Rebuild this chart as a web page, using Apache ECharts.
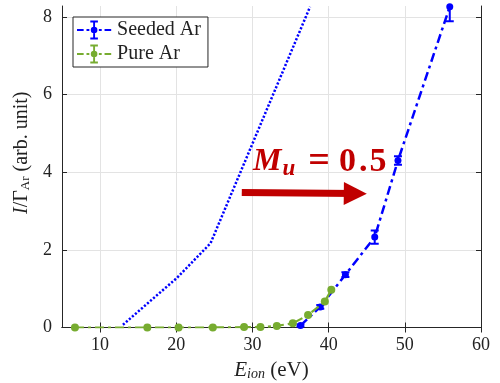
<!DOCTYPE html>
<html>
<head>
<meta charset="utf-8">
<script src="https://cdn.jsdelivr.net/npm/echarts@6/dist/echarts.min.js"></script>
<style>
  html, body { margin: 0; padding: 0; background: #fff; }
  #chart { width: 500px; height: 383px; }
</style>
</head>
<body>
<div id="chart"></div>
<script>
// measured data
const seededX = [36.3, 38.9, 42.2, 46.05, 49.1, 55.9];
const seededY = [0.05, 0.53, 1.36, 2.33, 4.3, 8.26];
const seededErr = [0.03, 0.05, 0.06, 0.17, 0.11, 0.37];
const pureX = [6.7, 16.2, 20.3, 24.8, 28.9, 31.05, 33.2, 35.3, 37.3, 39.5, 40.35];
const pureY = [0, 0, 0, 0, 0.01, 0.01, 0.04, 0.11, 0.32, 0.67, 0.97];
const modelX = [13, 20.1, 24.5, 37.56];
const modelY = [0.07, 1.28, 2.17, 8.26];
const xTicks = [10, 20, 30, 40, 50, 60];
const yTicks = [0, 2, 4, 6, 8];
const arrowX = [28.6, 43.5];
const arrowY = [3.48, 3.45];

const FONT = "Liberation Serif";
const AX = "#262626";
const GRID = "#e3e3e3";
const BLUE = "#0000ff";
const GREEN = "#77ac30";
const RED = "#c00000";

const zip = (xs, ys) => xs.map((x, i) => [x, ys[i]]);
const errData = seededX.map((x, i) => [x, seededY[i] - seededErr[i], seededY[i] + seededErr[i]]);

// legend glyph: dash-dot line with an error bar and a filled dot
const iconPath =
  "path://M0 9h7v2h-7Z M10 9h3v2h-3Z M23 9h3v2h-3Z M29 9h7v2h-7Z M17 0h2v20h-2Z M14 0h8v2h-8Z M14 18h8v2h-8Z " +
  "M14.5 10a3.5 3.5 0 1 1 7 0a3.5 3.5 0 1 1 -7 0Z";

const chart = echarts.init(document.getElementById("chart"));

const frameAxis = { show: true, lineStyle: { color: AX, width: 1 } };

chart.setOption({
  animation: false,
  backgroundColor: "#fff",
  textStyle: { fontFamily: FONT },
  grid: { left: 62, top: 6, width: 419, height: 321.5, outerBoundsMode: "none", containLabel: false },
  legend: {
    left: 73, top: 17,
    orient: "vertical",
    data: ["Seeded Ar", "Pure Ar"],
    icon: iconPath,
    itemWidth: 36, itemHeight: 19, itemGap: 4,
    padding: [3, 7, 3, 4],
    backgroundColor: "#fff",
    borderColor: AX, borderWidth: 1, borderRadius: 0,
    textStyle: { fontFamily: FONT, fontSize: 20, color: "#222" },
  },
  xAxis: [
    {
      type: "value", min: 5, max: 60,
      axisLine: frameAxis,
      axisTick: { inside: true, length: 5, customValues: xTicks, lineStyle: { color: AX } },
      axisLabel: { customValues: xTicks, color: "#222", fontSize: 18, fontFamily: FONT, margin: 9 },
      splitLine: { show: true, lineStyle: { color: GRID, width: 1 } },
      name: "{e|E}{s|ion} (eV)",
      nameLocation: "middle", nameGap: 31,
      nameTextStyle: {
        color: "#222", fontSize: 21, fontFamily: FONT,
        rich: {
          e: { fontSize: 21, fontStyle: "italic", fontFamily: FONT, color: "#222" },
          s: { fontSize: 14, fontStyle: "italic", fontFamily: FONT, color: "#222", verticalAlign: "bottom", padding: [9, 0, 0, 0] },
        },
      },
    },
    {
      type: "value", min: 5, max: 60, position: "top",
      axisLine: frameAxis,
      axisTick: { inside: true, length: 5, customValues: xTicks, lineStyle: { color: AX } },
      axisLabel: { show: false },
      splitLine: { show: false },
    },
  ],
  yAxis: [
    {
      type: "value", min: 0, max: 8.28,
      axisLine: frameAxis,
      axisTick: { show: true, inside: true, length: 5, customValues: yTicks, lineStyle: { color: AX } },
      axisLabel: { customValues: yTicks, color: "#222", fontSize: 18, fontFamily: FONT, margin: 10 },
      splitLine: { show: true, lineStyle: { color: GRID, width: 1 } },
      name: "{i|I}/Γ{s|Ar} (arb. unit)",
      nameLocation: "middle", nameGap: 19, nameRotate: 90,
      nameTextStyle: {
        color: "#222", fontSize: 20, fontFamily: FONT,
        padding: [0, 0, 0, 28],
        rich: {
          i: { fontSize: 20, fontStyle: "italic", fontFamily: FONT, color: "#222" },
          s: { fontSize: 13, fontFamily: FONT, color: "#222", verticalAlign: "bottom", padding: [8, 0, 0, 0] },
        },
      },
    },
    {
      type: "value", min: 0, max: 8.28, position: "right",
      axisLine: frameAxis,
      axisTick: { show: true, inside: true, length: 5, customValues: yTicks, lineStyle: { color: AX } },
      axisLabel: { show: false },
      splitLine: { show: false },
    },
  ],
  series: [
    {
      name: "model",
      type: "line",
      data: zip(modelX, modelY),
      showSymbol: false,
      lineStyle: { color: BLUE, width: 2.5, type: [2.2, 1.8] },
      itemStyle: { color: BLUE },
      z: 2,
      markLine: {
        silent: true,
        symbol: ["none", "triangle"],
        symbolSize: [23, 23],
        label: { show: false },
        lineStyle: { color: RED, width: 7, type: "solid", opacity: 1 },
        itemStyle: { color: RED },
        emphasis: { disabled: true },
        data: [[{ coord: [arrowX[0], arrowY[0]] }, { coord: [arrowX[1], arrowY[1]] }]],
      },
    },
    {
      name: "Seeded Ar",
      type: "line",
      data: zip(seededX, seededY),
      symbol: "circle",
      symbolSize: 7,
      lineStyle: { color: BLUE, width: 2.5, type: [9, 4, 3, 4] },
      itemStyle: { color: BLUE },
      z: 3,
    },
    {
      name: "Seeded Ar",
      type: "custom",
      data: errData,
      clip: true,
      z: 3,
      renderItem: (params, api) => {
        const x = api.value(0);
        const lo = api.coord([x, api.value(1)]);
        const hi = api.coord([x, api.value(2)]);
        const w = 4;
        const style = { stroke: BLUE, lineWidth: 2 };
        return {
          type: "group",
          children: [
            { type: "line", shape: { x1: lo[0], y1: lo[1], x2: hi[0], y2: hi[1] }, style },
            { type: "line", shape: { x1: lo[0] - w, y1: lo[1], x2: lo[0] + w, y2: lo[1] }, style },
            { type: "line", shape: { x1: hi[0] - w, y1: hi[1], x2: hi[0] + w, y2: hi[1] }, style },
          ],
        };
      },
    },
    {
      name: "Pure Ar",
      type: "line",
      data: zip(pureX, pureY),
      symbol: "circle",
      symbolSize: 8,
      lineStyle: { color: GREEN, width: 2.2, type: [9, 4, 3, 4] },
      itemStyle: { color: GREEN },
      z: 4,
    },
  ],
  graphic: [
    {
      type: "text",
      left: 253, top: 143,
      z: 10,
      style: {
        text: "{m|M}{u|u}{eq|=}{n|0}{dot|.}{n|5}",
        rich: {
          m: { fontFamily: FONT, fontSize: 32, fontWeight: "bold", fontStyle: "italic", fill: RED },
          u: { fontFamily: FONT, fontSize: 23, fontWeight: "bold", fontStyle: "italic", fill: RED, verticalAlign: "bottom", padding: [12, 0, 0, 1] },
          eq: { fontFamily: FONT, fontSize: 38, fontWeight: "bold", fill: RED, padding: [0, 9, 0, 13] },
          n: { fontFamily: FONT, fontSize: 34, fontWeight: "bold", fill: RED },
          dot: { fontFamily: FONT, fontSize: 34, fontWeight: "bold", fill: RED, padding: [0, 2, 0, 3] },
        },
      },
    },
  ],
});
</script>
</body>
</html>
